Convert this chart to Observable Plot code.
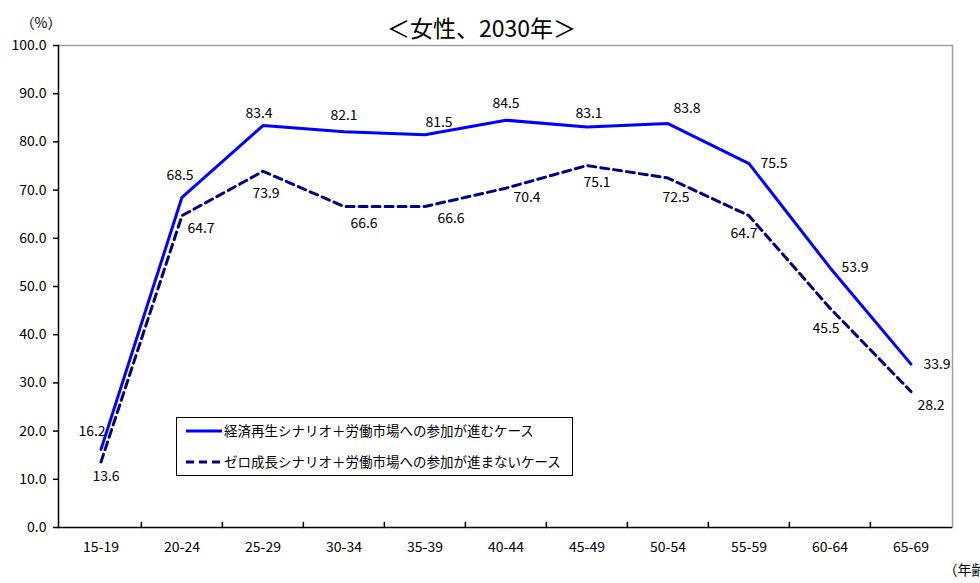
<!DOCTYPE html>
<html>
<head>
<meta charset="utf-8">
<script src="https://cdn.jsdelivr.net/npm/d3@7"></script>
<script src="https://cdn.jsdelivr.net/npm/@observablehq/plot@0.6"></script>
<style>
  html, body { margin: 0; padding: 0; background: #fff; }
</style>
</head>
<body>
<div id="chart"></div>
<script>
const ages = ["15-19","20-24","25-29","30-34","35-39","40-44","45-49","50-54","55-59","60-64","65-69"];
const scenarioA = [16.2,68.5,83.4,82.1,81.5,84.5,83.1,83.8,75.5,53.9,33.9];
const scenarioB = [13.6,64.7,73.9,66.6,66.6,70.4,75.1,72.5,64.7,45.5,28.2];
const yTicks = [0,10,20,30,40,50,60,70,80,90,100];
const seriesNames = ["経済再生シナリオ＋労働市場への参加が進むケース","ゼロ成長シナリオ＋労働市場への参加が進まないケース"];
const titleText = "＜女性、2030年＞";
const yUnit = "（%）";
const xUnit = "（年齢）";

// label offsets (style)
const dxA = [-9,-2,-4,0,14,0,2,19,25,25,26];
const dyA = [-18,-22,-12,-16,-12,-17,-13,-15,0,0,0];
const dxB = [5,19,3,20,26,21,10,8,-5,-4,20];
const dyB = [15,13,22,17,12,9,17,19,18,20,14];

const W = 980, H = 583, mL = 58, mR = 28, mT = 45, mB = 56;
const bw = (W - mL - mR) / ages.length;
const font = "'Noto Sans CJK JP', 'Noto Sans', sans-serif";

const rows = ages.map((a, i) => ({age: a, a: scenarioA[i], b: scenarioB[i]}));

const tickShape = {draw(ctx, l) { ctx.moveTo(0, 0); ctx.lineTo(0, -l); }};

const svg = Plot.plot({
  width: W, height: H,
  marginLeft: mL, marginRight: mR, marginTop: mT, marginBottom: mB,
  style: {fontFamily: font, fontSize: "14px", color: "#000", background: "#fff"},
  x: {type: "band", domain: ages, padding: 0, label: null},
  y: {domain: [0, 100], label: null},
  marks: [
    Plot.frame({anchor: "top", stroke: "#a0a0a0", strokeWidth: 1.5}),
    Plot.frame({anchor: "right", stroke: "#a0a0a0", strokeWidth: 1.5}),
    Plot.frame({anchor: "left", stroke: "#000", strokeWidth: 1.5}),
    Plot.ruleY([0], {stroke: "#000", strokeWidth: 1.5}),
    Plot.axisY({ticks: yTicks, tickFormat: d => d.toFixed(1), tickSize: 5, tickPadding: 7, fontSize: 14, stroke: "#000", strokeWidth: 1.5}),
    Plot.axisX({tickSize: 0, tickPadding: 15, fontSize: 14}),
    Plot.vector(ages.slice(1), {x: d => d, y: 0, length: 5, rotate: 0, anchor: "start", shape: tickShape, dx: -bw / 2, stroke: "#000", strokeWidth: 1.5}),
    Plot.line(rows, {x: "age", y: "b", stroke: "#000080", strokeWidth: 3, strokeDasharray: "8,5"}),
    Plot.line(rows, {x: "age", y: "a", stroke: "#0000ff", strokeWidth: 3}),
    ...ages.map((a, i) => Plot.text([rows[i]], {x: "age", y: "a", text: d => d.a.toFixed(1), dx: dxA[i], dy: dyA[i], fontSize: 14, fill: "#000"})),
    ...ages.map((a, i) => Plot.text([rows[i]], {x: "age", y: "b", text: d => d.b.toFixed(1), dx: dxB[i], dy: dyB[i], fontSize: 14, fill: "#000"})),
    Plot.text([titleText], {frameAnchor: "top", dx: -24, dy: -25, fontSize: 23, fill: "#000"}),
    Plot.text([yUnit], {frameAnchor: "top-left", textAnchor: "start", dx: -38, dy: -27, fontSize: 14, fill: "#000"}),
    Plot.text([xUnit], {frameAnchor: "bottom-right", textAnchor: "start", dx: -9, dy: 47, fontSize: 14, fill: "#000"})
  ]
});

// legend box
const g = d3.select(svg).append("g").attr("font-family", font).attr("font-size", 13.5).attr("text-anchor", "start");
g.append("rect").attr("x", 176.5).attr("y", 417.5).attr("width", 396).attr("height", 58)
  .attr("fill", "#fff").attr("stroke", "#000").attr("stroke-width", 1);
const legendStyles = [{stroke: "#0000ff", dash: null}, {stroke: "#000080", dash: "8,5"}];
seriesNames.forEach((name, i) => {
  const y = 431 + i * 31;
  const l = g.append("line").attr("x1", 186).attr("x2", 222).attr("y1", y).attr("y2", y)
    .attr("stroke", legendStyles[i].stroke).attr("stroke-width", 3);
  if (legendStyles[i].dash) l.attr("stroke-dasharray", legendStyles[i].dash);
  g.append("text").attr("x", 224).attr("y", y).attr("dy", "0.35em").attr("fill", "#000").text(name);
});

document.getElementById("chart").appendChild(svg);
</script>
</body>
</html>
